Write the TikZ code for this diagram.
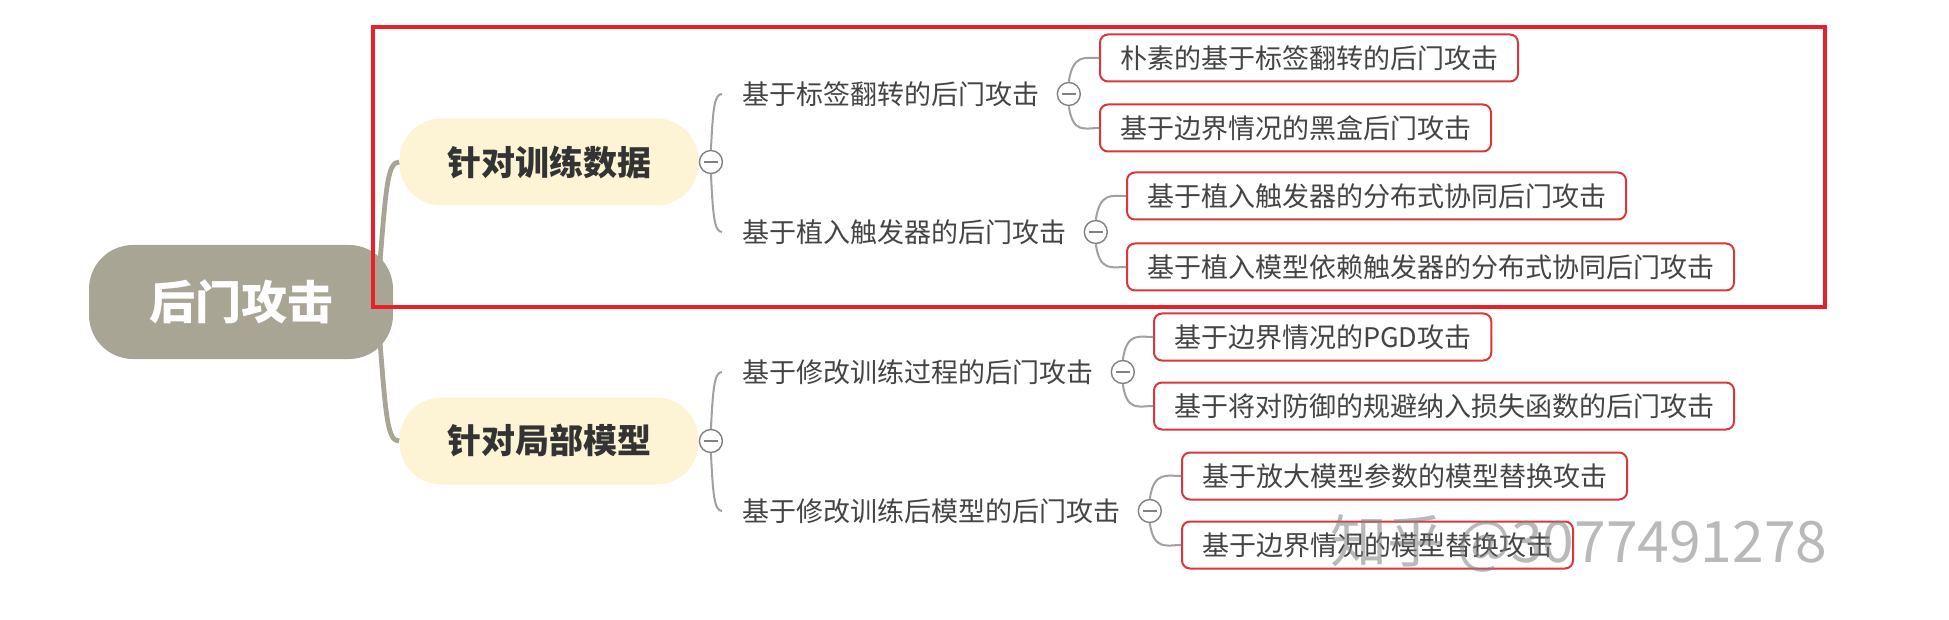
\documentclass[tikz,border=0pt]{standalone}
\usepackage{fontspec}
\setmainfont{Noto Sans CJK SC}
\definecolor{rootfill}{HTML}{A8A595}
\definecolor{brfill}{HTML}{FDF4D5}
\definecolor{leafred}{HTML}{D8383C}
\definecolor{txt}{HTML}{444444}
\definecolor{frame}{HTML}{E8202A}
\definecolor{lnk}{HTML}{A0A0A0}
\tikzset{
 rootnode/.style={rounded corners=22pt, fill=rootfill, text=white, font=\fontsize{23}{26}\selectfont\bfseries, minimum width=152pt, minimum height=57pt, inner sep=0pt},
 brnode/.style={rounded corners=21pt, fill=brfill, text=black!80, font=\fontsize{17}{20}\selectfont\bfseries, minimum width=149.5pt, minimum height=43.5pt, inner sep=0pt},
 midnode/.style={anchor=west, inner sep=0pt, text=txt, font=\fontsize{13.5}{16}\selectfont},
 leafnode/.style={anchor=west, draw=leafred, line width=1pt, rounded corners=4pt, fill=white, inner xsep=10pt, inner ysep=0pt, minimum height=23.5pt, text=txt, font=\fontsize{13.5}{16}\selectfont},
 toggle/.style={circle, draw=gray, fill=white, line width=0.7pt, minimum size=11.5pt, inner sep=0pt,
   path picture={\draw[gray, line width=0.7pt] ([xshift=-3.5pt]path picture bounding box.center) -- ([xshift=3.5pt]path picture bounding box.center);}},
 rootlink/.style={draw=rootfill, line width=2.4pt},
 thinlink/.style={draw=lnk, line width=1pt},
}
\begin{document}
\begin{tikzpicture}[x=0.5pt,y=-0.5pt]
\path[use as bounding box] (0,0) rectangle (1949,620);
% root and branches
\node[rootnode] (root) at (241,302) {后门攻击};
\coordinate (r1) at (380,262);
\coordinate (r2) at (380,342);
\node[brnode] (b1) at (549,162) {针对训练数据};
\node[brnode] (b2) at (549,441) {针对局部模型};
\draw[rootlink] (r1) .. controls (386,185) and (388,162) .. (b1.west);
\draw[rootlink] (r2) .. controls (386,420) and (388,441) .. (b2.west);
% middle labels
\node[midnode] (m1) at (742,94) {基于标签翻转的后门攻击};
\node[midnode] (m2) at (742,232) {基于植入触发器的后门攻击};
\node[midnode] (m3) at (742,372) {基于修改训练过程的后门攻击};
\node[midnode] (m4) at (742,511) {基于修改训练后模型的后门攻击};
% branch toggles
\node[toggle] (t1) at ([xshift=6pt]b1.east) {};
\node[toggle] (t2) at ([xshift=6pt]b2.east) {};
\draw[thinlink] (t1.north) .. controls (713,110) and (714,94) .. ([xshift=-10pt]m1.west);
\draw[thinlink] (t1.south) .. controls (713,214) and (714,232) .. ([xshift=-10pt]m2.west);
\draw[thinlink] (t2.north) .. controls (713,390) and (714,372) .. ([xshift=-10pt]m3.west);
\draw[thinlink] (t2.south) .. controls (713,493) and (714,511) .. ([xshift=-10pt]m4.west);
% mid toggles
\node[toggle] (tm1) at ([xshift=14.5pt]m1.east) {};
\node[toggle] (tm2) at ([xshift=14.5pt]m2.east) {};
\node[toggle] (tm3) at ([xshift=14.5pt]m3.east) {};
\node[toggle] (tm4) at ([xshift=14.5pt]m4.east) {};
% leaves
\node[leafnode] (L1) at (1099,58) {朴素的基于标签翻转的后门攻击};
\node[leafnode] (L2) at (1099,128) {基于边界情况的黑盒后门攻击};
\node[leafnode] (L3) at (1126,196) {基于植入触发器的分布式协同后门攻击};
\node[leafnode] (L4) at (1126,267) {基于植入模型依赖触发器的分布式协同后门攻击};
\node[leafnode] (L5) at (1153,337) {基于边界情况的PGD攻击};
\node[leafnode] (L6) at (1153,406) {基于将对防御的规避纳入损失函数的后门攻击};
\node[leafnode] (L7) at (1181,476) {基于放大模型参数的模型替换攻击};
\node[leafnode] (L8) at (1181,545) {基于边界情况的模型替换攻击};
\draw[thinlink] (tm1.north) .. controls +(4,-28) and +(-14,0) .. (L1.west);
\draw[thinlink] (tm1.south) .. controls +(4,28) and +(-14,0) .. (L2.west);
\draw[thinlink] (tm2.north) .. controls +(4,-28) and +(-14,0) .. (L3.west);
\draw[thinlink] (tm2.south) .. controls +(4,28) and +(-14,0) .. (L4.west);
\draw[thinlink] (tm3.north) .. controls +(4,-28) and +(-14,0) .. (L5.west);
\draw[thinlink] (tm3.south) .. controls +(4,28) and +(-14,0) .. (L6.west);
\draw[thinlink] (tm4.north) .. controls +(4,-28) and +(-14,0) .. (L7.west);
\draw[thinlink] (tm4.south) .. controls +(4,28) and +(-14,0) .. (L8.west);
% red frame
\draw[frame, line width=2pt] (373,27) rectangle (1825,307);
% watermark
\node[anchor=west, text=gray, opacity=0.55, font=\fontsize{28.5}{32}\selectfont, inner sep=0pt] (wm) at (1330,543) {知乎 @3077491278};
\end{tikzpicture}
\end{document}
